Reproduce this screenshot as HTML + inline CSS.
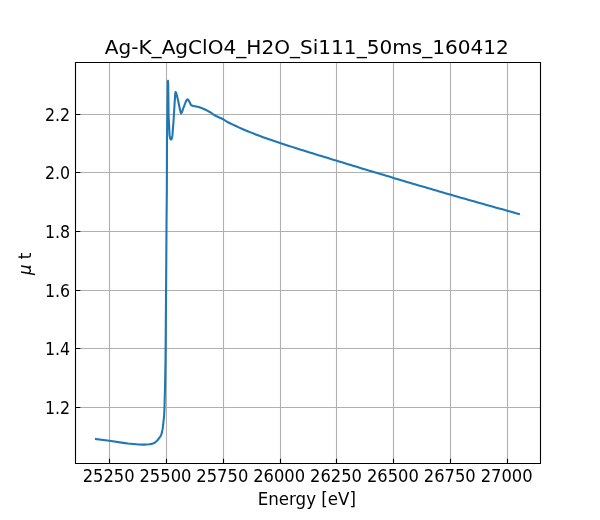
<!DOCTYPE html>
<html><head><meta charset="utf-8"><title>Ag-K_AgClO4_H2O_Si111_50ms_160412</title><style>html,body{margin:0;padding:0;background:#fff;width:600px;height:520px;overflow:hidden}svg{display:block;will-change:transform}</style></head><body>
<svg width="600" height="520" viewBox="0 0 600 520">
<rect width="600" height="520" fill="#fff"/>
<path d="M109.5 62.5V463.5M166.5 62.5V463.5M223.5 62.5V463.5M280.5 62.5V463.5M336.5 62.5V463.5M393.5 62.5V463.5M450.5 62.5V463.5M507.5 62.5V463.5M75.5 407.5H540.5M75.5 348.5H540.5M75.5 290.5H540.5M75.5 231.5H540.5M75.5 172.5H540.5M75.5 114.5H540.5" stroke="#b0b0b0" stroke-width="1.1111" fill="none"/>
<polyline points="96.00,439.00 109.30,440.70 125.00,443.10 128.00,443.50 133.30,444.00 138.70,444.50 144.00,444.60 149.30,444.30 152.00,443.90 154.70,442.70 157.30,440.50 159.50,437.70 161.10,435.20 162.00,432.10 162.70,428.60 163.20,424.50 163.60,420.30 164.10,416.20 164.40,410.00 164.70,400.00 165.00,388.00 165.25,375.00 165.50,360.00 166.00,300.00 166.55,220.00 166.85,190.00 166.95,160.00 167.00,140.00 167.40,110.00 167.80,82.00 168.00,80.80 168.20,84.00 168.60,115.00 169.60,135.70 170.30,138.90 171.00,139.60 171.70,138.90 172.40,135.70 173.60,120.00 174.50,105.00 175.20,94.00 175.60,92.00 176.25,93.00 178.00,100.00 179.75,108.50 180.60,112.30 181.30,113.30 182.10,112.00 183.00,109.00 185.50,102.50 186.80,99.80 187.50,99.30 188.30,99.90 189.25,101.50 191.00,105.00 192.50,105.75 194.70,106.30 196.00,106.40 198.70,107.10 202.70,108.50 206.70,110.30 210.70,112.50 213.30,114.30 216.00,116.00 219.30,117.50 223.30,119.30 227.00,121.75 229.95,123.23 232.90,124.66 235.85,126.05 238.79,127.39 241.74,128.70 244.69,129.97 247.64,131.20 250.59,132.41 253.54,133.58 256.48,134.72 259.43,135.84 262.38,136.93 265.33,138.00 268.28,139.05 271.23,140.07 274.18,141.08 277.12,142.08 280.07,143.06 283.02,144.03 285.97,144.98 288.92,145.93 291.87,146.87 294.82,147.81 297.76,148.74 300.71,149.66 303.66,150.58 306.61,151.50 309.56,152.41 312.51,153.32 315.45,154.23 318.40,155.14 321.35,156.05 324.30,156.95 327.25,157.86 330.20,158.76 333.15,159.66 336.09,160.56 339.04,161.46 341.99,162.36 344.94,163.26 347.89,164.16 350.84,165.06 353.78,165.96 356.73,166.85 359.68,167.74 362.63,168.64 365.58,169.53 368.53,170.42 371.48,171.31 374.42,172.20 377.37,173.09 380.32,173.97 383.27,174.86 386.22,175.74 389.17,176.62 392.12,177.50 395.06,178.38 398.01,179.26 400.96,180.14 403.91,181.02 406.86,181.89 409.81,182.76 412.75,183.64 415.70,184.51 418.65,185.38 421.60,186.24 424.55,187.11 427.50,187.97 430.45,188.84 433.39,189.70 436.34,190.56 439.29,191.42 442.24,192.28 445.19,193.13 448.14,193.98 451.08,194.84 454.03,195.69 456.98,196.54 459.93,197.38 462.88,198.23 465.83,199.07 468.78,199.91 471.72,200.75 474.67,201.59 477.62,202.43 480.57,203.26 483.52,204.10 486.47,204.93 489.42,205.76 492.36,206.58 495.31,207.41 498.26,208.23 501.21,209.05 504.16,209.87 507.11,210.69 510.05,211.50 513.00,212.32 515.95,213.13 518.90,213.94" fill="none" stroke="#1f77b4" stroke-width="2.0833" stroke-linejoin="round" stroke-linecap="square"/>
<path d="M109.5 463.5V458.639M166.5 463.5V458.639M223.5 463.5V458.639M280.5 463.5V458.639M336.5 463.5V458.639M393.5 463.5V458.639M450.5 463.5V458.639M507.5 463.5V458.639M75.5 407.5H80.361M75.5 348.5H80.361M75.5 290.5H80.361M75.5 231.5H80.361M75.5 172.5H80.361M75.5 114.5H80.361" stroke="#000" stroke-width="1.1111" fill="none"/>
<path d="M75.5 463.5V62.5H540.5V463.5Z" stroke="#000" stroke-width="1.1111" fill="none" stroke-linejoin="miter" stroke-linecap="square"/>
<g font-family="DejaVu Sans, sans-serif" font-size="16.667" fill="#000">
<text transform="translate(108.601 481.625) scale(0.98 1.1)" text-anchor="middle">25250</text>
<text transform="translate(165.458 481.625) scale(0.98 1.1)" text-anchor="middle">25500</text>
<text transform="translate(222.316 481.625) scale(0.98 1.1)" text-anchor="middle">25750</text>
<text transform="translate(279.173 481.625) scale(0.98 1.1)" text-anchor="middle">26000</text>
<text transform="translate(336.031 481.625) scale(0.98 1.1)" text-anchor="middle">26250</text>
<text transform="translate(392.888 481.625) scale(0.98 1.1)" text-anchor="middle">26500</text>
<text transform="translate(449.746 481.625) scale(0.98 1.1)" text-anchor="middle">26750</text>
<text transform="translate(506.603 481.625) scale(0.98 1.1)" text-anchor="middle">27000</text>
<text transform="translate(70.139 413.873) scale(0.95 1.08)" text-anchor="end">1.2</text>
<text transform="translate(70.139 355.223) scale(0.95 1.08)" text-anchor="end">1.4</text>
<text transform="translate(70.139 296.573) scale(0.95 1.08)" text-anchor="end">1.6</text>
<text transform="translate(70.139 237.923) scale(0.95 1.08)" text-anchor="end">1.8</text>
<text transform="translate(70.139 179.273) scale(0.95 1.08)" text-anchor="end">2.0</text>
<text transform="translate(70.139 120.623) scale(0.95 1.08)" text-anchor="end">2.2</text>
<text transform="translate(306.830 504.511) scale(1.0 1.06)" text-anchor="middle">Energy [eV]</text>
<g transform="translate(31.398 275.050) rotate(-90) scale(1 1.04)"><text y="-0.803"><tspan x="0" font-style="oblique">μ</tspan><tspan x="10.604"> </tspan><tspan x="15.902">t</tspan></text></g>
<text transform="translate(306.800 53.697) scale(1.004 1.0)" font-size="20.000" text-anchor="middle">Ag-K_AgClO4_H2O_Si111_50ms_160412</text>
</g></svg>
</body></html>
